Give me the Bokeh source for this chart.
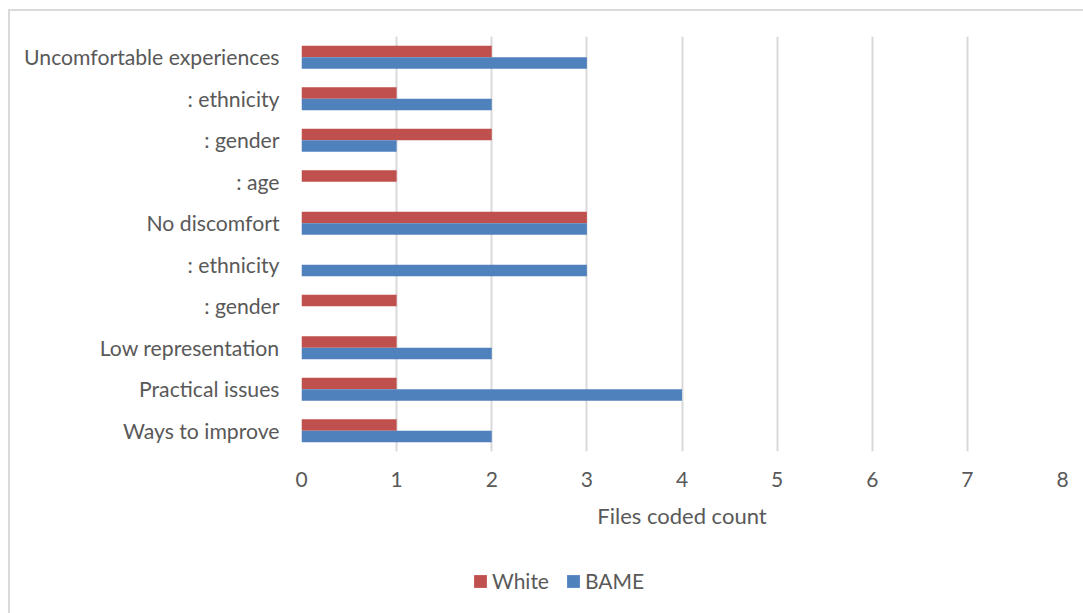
from bokeh.plotting import figure
from bokeh.layouts import column
from bokeh.models import Range1d, FixedTicker, Legend, LegendItem, ColumnDataSource
from bokeh.embed import file_html
from bokeh.resources import INLINE

categories = ["Uncomfortable experiences", ": ethnicity", ": gender", ": age",
              "No discomfort", ": ethnicity", ": gender", "Low representation",
              "Practical issues", "Ways to improve"]
white = [2, 1, 2, 1, 3, 0, 1, 1, 1, 1]
bame = [3, 2, 1, 0, 3, 3, 0, 2, 4, 2]
series_names = ["White", "BAME"]
x_ticks = [0, 1, 2, 3, 4, 5, 6, 7, 8]

FONT = "Lato"
TXT = "#595959"
RED = "#C0504D"
BLUE = "#4F81BD"

idx = list(range(len(categories)))
src = ColumnDataSource(dict(
    y_w=[i - 0.14 for i in idx], y_b=[i + 0.14 for i in idx],
    white=white, bame=bame))

p = figure(width=1073, height=534, output_backend="svg", toolbar_location=None,
           x_range=Range1d(0, 8), y_range=Range1d(len(categories) - 0.5, -0.5),
           min_border_left=291, min_border_right=21, min_border_top=25,
           min_border_bottom=94)
p.outline_line_color = None
p.background_fill_color = "white"
p.border_fill_color = "white"

rw = p.hbar(y="y_w", right="white", left=0, height=0.28, source=src,
            fill_color=RED, line_color=None)
rb = p.hbar(y="y_b", right="bame", left=0, height=0.28, source=src,
            fill_color=BLUE, line_color=None)

# x axis
xa = p.xaxis[0]
xa.ticker = FixedTicker(ticks=x_ticks)
xa.axis_line_color = None
xa.major_tick_line_color = None
xa.minor_tick_line_color = None
xa.major_label_text_font = FONT
xa.major_label_text_font_size = "21px"
xa.major_label_text_color = TXT
xa.major_label_standoff = 14
xa.axis_label = "Files coded count"
xa.axis_label_text_font = FONT
xa.axis_label_text_font_size = "22px"
xa.axis_label_text_font_style = "normal"
xa.axis_label_text_color = TXT
xa.axis_label_standoff = 12

# y axis
ya = p.yaxis[0]
ya.ticker = FixedTicker(ticks=idx)
ya.major_label_overrides = {i: c for i, c in zip(idx, categories)}
ya.axis_line_color = None
ya.major_tick_line_color = None
ya.minor_tick_line_color = None
ya.major_label_text_font = FONT
ya.major_label_text_font_size = "21.2px"
ya.major_label_text_color = TXT
ya.major_label_standoff = 16

p.xgrid.ticker = FixedTicker(ticks=x_ticks)
p.xgrid.grid_line_color = "#d9d9d9"
p.xgrid.grid_line_width = 2
p.ygrid.grid_line_color = None

# legend strip below the chart (its renderers sit outside the visible range)
p2 = figure(width=1073, height=68, output_backend="svg", toolbar_location=None,
            x_range=Range1d(0, 8), y_range=Range1d(100, 101),
            x_axis_location=None, y_axis_location=None,
            min_border_left=0, min_border_right=0, min_border_top=0,
            min_border_bottom=0)
p2.outline_line_color = None
p2.xgrid.grid_line_color = None
p2.ygrid.grid_line_color = None
lw = p2.hbar(y="y_w", right="white", left=0, height=0.28, source=src,
             fill_color=RED, line_color=None)
lb = p2.hbar(y="y_b", right="bame", left=0, height=0.28, source=src,
             fill_color=BLUE, line_color=None)

legend = Legend(items=[LegendItem(label=series_names[0], renderers=[lw]),
                       LegendItem(label=series_names[1], renderers=[lb])],
                orientation="horizontal", location=(171, 20),
                glyph_width=16, glyph_height=16, label_standoff=4, spacing=16,
                padding=0, margin=0, border_line_color=None,
                background_fill_alpha=0,
                label_text_font=FONT, label_text_font_size="21px",
                label_text_color=TXT, label_height=20)
p2.add_layout(legend, "center")

layout = column(p, p2, spacing=0)
layout.styles = {"margin-left": "8px", "margin-top": "9px",
                 "border-top": "2px solid #d9d9d9", "border-left": "2px solid #d9d9d9"}

open("out.html", "w").write(file_html(layout, INLINE))
